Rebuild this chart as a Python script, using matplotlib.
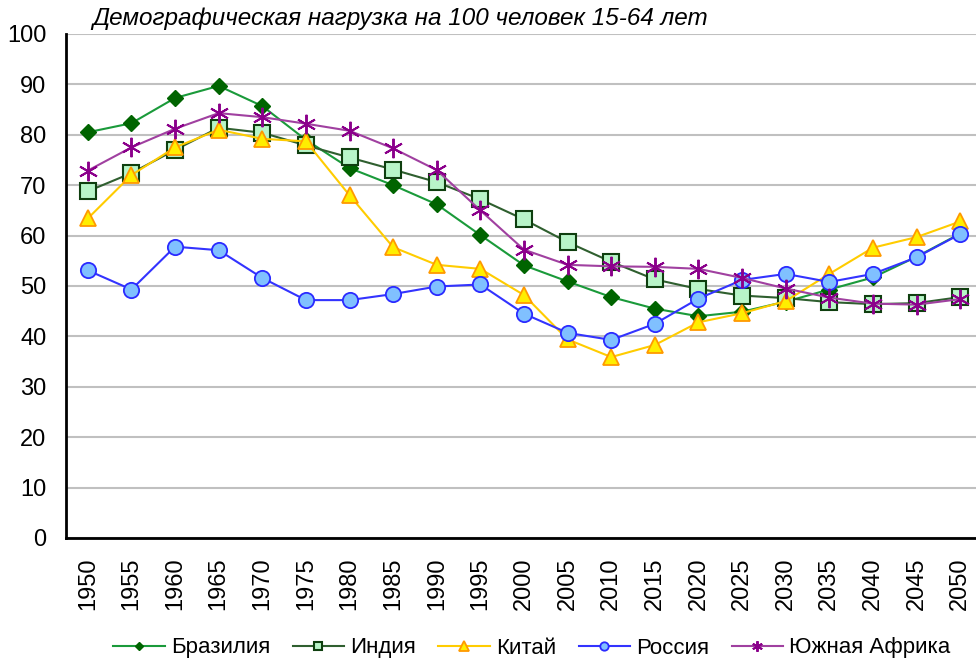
import matplotlib
matplotlib.use("Agg")
import matplotlib.pyplot as plt

plt.rcParams['font.family'] = ['Liberation Sans', 'DejaVu Sans']

years = [1950, 1955, 1960, 1965, 1970, 1975, 1980, 1985, 1990, 1995, 2000,
         2005, 2010, 2015, 2020, 2025, 2030, 2035, 2040, 2045, 2050]
brazil = [80.5, 82.3, 87.3, 89.7, 85.7, 79.0, 73.4, 70.0, 66.2, 60.1, 54.1,
          50.9, 47.8, 45.5, 44.0, 44.9, 46.9, 49.3, 51.7, 55.8, 60.4]
india = [68.8, 72.4, 77.0, 81.4, 80.4, 77.9, 75.5, 73.1, 70.6, 67.2, 63.2,
         58.7, 54.8, 51.3, 49.4, 48.1, 47.6, 46.8, 46.4, 46.6, 47.8]
china = [63.4, 72.0, 77.5, 81.0, 79.2, 78.7, 68.0, 57.7, 54.2, 53.4, 48.2,
         39.4, 35.9, 38.3, 42.8, 44.6, 47.0, 52.4, 57.6, 59.7, 62.8]
russia = [53.1, 49.3, 57.8, 57.1, 51.6, 47.2, 47.2, 48.4, 49.9, 50.3, 44.5,
          40.7, 39.3, 42.5, 47.5, 51.2, 52.4, 50.8, 52.4, 55.7, 60.3]
safrica = [72.9, 77.5, 81.2, 84.3, 83.5, 82.2, 80.8, 77.3, 73.0, 65.0, 57.2,
           54.2, 53.9, 53.8, 53.4, 51.6, 49.5, 47.7, 46.5, 46.3, 47.4]
names = ['Бразилия', 'Индия', 'Китай', 'Россия', 'Южная Африка']
title = 'Демографическая нагрузка на 100 человек 15-64 лет'

fig = plt.figure(figsize=(9.76, 6.58), dpi=100)
ax = fig.add_axes([66/976, 1-538/658, (982-66)/976, (538-34)/658])

x = list(range(len(years)))
ax.plot(x, brazil, color='#1a9a3a', lw=1.5, marker='D', ms=8,
        mfc='#006400', mec='#006400', label=names[0], zorder=3)
ax.plot(x, india, color='#2f5f2f', lw=1.5, marker='s', ms=11,
        mfc='#b8f5c8', mec='#0f3f0f', mew=1.5, label=names[1], zorder=3)
ax.plot(x, china, color='#ffcc00', lw=1.5, marker='^', ms=12,
        mfc='#ffee00', mec='#ff9900', mew=1.3, label=names[2], zorder=3)
ax.plot(x, russia, color='#3333ff', lw=1.5, marker='o', ms=11,
        mfc='#80c0ff', mec='#2a2aff', mew=1.3, label=names[3], zorder=3)
ax.plot(x, safrica, color='#a040a0', lw=1.5, marker=(6, 2, 0), ms=14,
        mec='#8b008b', mew=1.4, label=names[4], zorder=3)

ax.set_xlim(-0.5, len(years) - 0.5)
ax.set_ylim(0, 100)
ax.set_yticks(range(0, 101, 10))
ax.set_xticks(x)
ax.set_xticklabels([str(y) for y in years], rotation=90, fontsize=17)
ax.tick_params(axis='y', labelsize=17, length=0, pad=14)
ax.tick_params(axis='x', length=0, pad=14)
ax.grid(axis='y', color='#c0c0c0', lw=1.5)
ax.set_axisbelow(True)
for s in ['top', 'right']:
    ax.spines[s].set_visible(False)
ax.spines['left'].set_linewidth(2)
ax.spines['bottom'].set_linewidth(2)

fig.text(92/976, 1-19/658, title, fontsize=17.5, style='italic',
         ha='left', va='center')

leg = fig.legend(loc='center', bbox_to_anchor=(532/976, 1-648/658), ncol=5,
                 frameon=False, fontsize=16, handlelength=2.3,
                 columnspacing=1.0, handletextpad=0.3, markerscale=0.55)

fig.savefig('out.png', dpi=100)
